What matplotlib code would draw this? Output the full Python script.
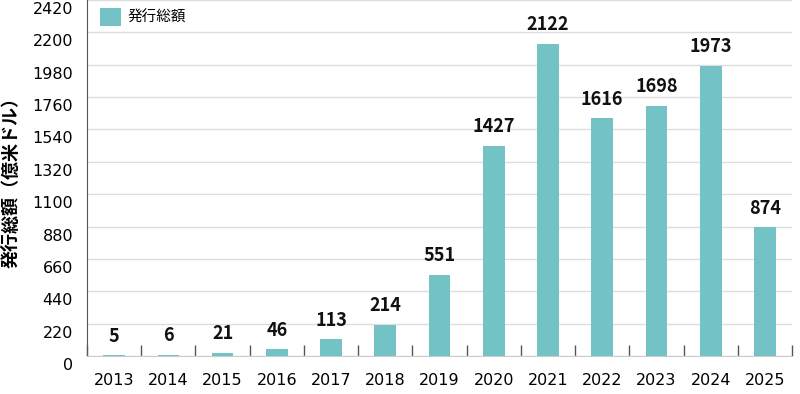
import matplotlib
matplotlib.use('Agg')
import matplotlib.pyplot as plt
import matplotlib.transforms as mtransforms
import numpy as np

plt.rcParams['font.family'] = ['Noto Sans CJK JP', 'DejaVu Sans']

years = ['2013', '2014', '2015', '2016', '2017', '2018', '2019',
         '2020', '2021', '2022', '2023', '2024', '2025']
issuance = [5, 6, 21, 46, 113, 214, 551, 1427, 2122, 1616, 1698, 1973, 874]
y_ticks = list(range(0, 2421, 220))

bar_color = '#73c2c6'

fig = plt.figure(figsize=(8, 3.94), dpi=100)
ax = fig.add_axes([87 / 800, 38 / 394, 705 / 800, 356 / 394])

x = np.arange(len(years))
ax.bar(x, issuance, width=0.4, color=bar_color, label='発行総額', zorder=3)

# value labels above bars
for xi, v in zip(x, issuance):
    ax.annotate(str(v), (xi, v), xytext=(0, 7), textcoords='offset points',
                ha='center', va='bottom', fontsize=13, fontweight='bold',
                color='#111111', zorder=4)

ax.set_xlim(-0.5, len(years) - 0.5)
ax.set_ylim(0, 2420)
ax.set_yticks(y_ticks)
ax.set_yticklabels([str(t) for t in y_ticks], fontsize=11.5, family='DejaVu Sans')
ax.tick_params(axis='y', length=0, pad=10)
# y labels sit a bit below their gridlines
offset = mtransforms.ScaledTranslation(0, -8 / 100, fig.dpi_scale_trans)
for lbl in ax.get_yticklabels():
    lbl.set_transform(lbl.get_transform() + offset)

ax.set_xticks(x)
ax.set_xticklabels(years, fontsize=11.5, family='DejaVu Sans')
ax.tick_params(axis='x', which='major', length=0, pad=12)
ax.set_xticks(np.arange(-0.5, len(years), 1.0), minor=True)
ax.tick_params(axis='x', which='minor', direction='in', length=8, width=1, color='#555555')

ax.grid(axis='y', color='#dddddd', linewidth=1, zorder=0)
for s in ['top', 'right']:
    ax.spines[s].set_visible(False)
ax.spines['left'].set_color('#555555')
ax.spines['bottom'].set_color('#cccccc')

ax.set_ylabel('発行総額（億米ドル）', fontsize=13, fontweight='bold')
ax.yaxis.set_label_coords(-66 / 705, 0.5)

ax.legend(loc='upper left', bbox_to_anchor=(0.0, 1.015), frameon=False,
          fontsize=10.5, handlelength=1.4, handleheight=1.5, handletextpad=0.5)

fig.savefig('out.png', dpi=100)
